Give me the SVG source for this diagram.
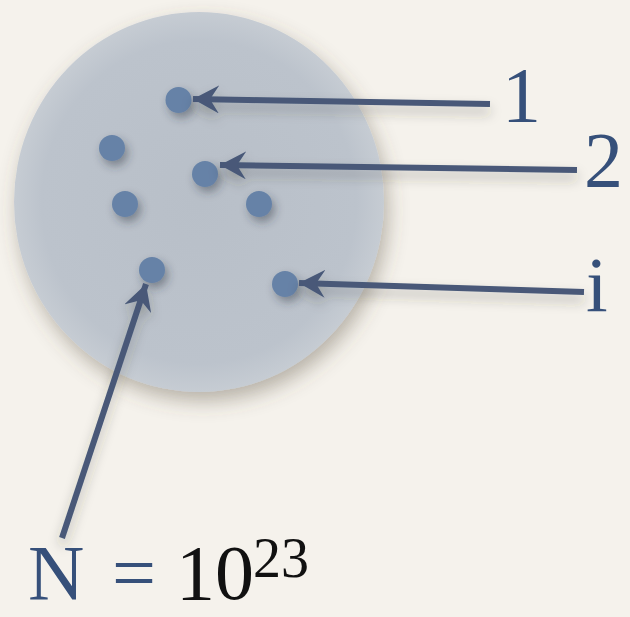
<svg xmlns="http://www.w3.org/2000/svg" width="630" height="617" viewBox="0 0 630 617">
  <defs>
    <filter id="soft" x="-20%" y="-20%" width="140%" height="150%">
      <feDropShadow dx="4" dy="9" stdDeviation="10" flood-color="#5a5040" flood-opacity="0.4"/>
    </filter>
    <filter id="dotsh" x="-100%" y="-100%" width="300%" height="300%">
      <feDropShadow dx="3" dy="5" stdDeviation="5" flood-color="#2a3040" flood-opacity="0.45"/>
    </filter>
    <filter id="lsh" x="-20%" y="-50%" width="140%" height="200%">
      <feDropShadow dx="0" dy="7" stdDeviation="6" flood-color="#3a3630" flood-opacity="0.3"/>
    </filter>
    <radialGradient id="cg" cx="0.5" cy="0.5" r="0.5">
      <stop offset="0" stop-color="#b8bfc8"/>
      <stop offset="0.85" stop-color="#bcc3cc"/>
      <stop offset="1" stop-color="#c6ccd3"/>
    </radialGradient>
    <marker id="ah" markerUnits="userSpaceOnUse" viewBox="0 0 28 28" refX="26" refY="14" markerWidth="28" markerHeight="28" orient="auto">
      <path d="M26 14 L0 0 L9 14 L0 28 Z" fill="#485978"/>
    </marker>
    <style>
      .dot { fill: #6682a7; }
      .arr { stroke: #485978; stroke-width: 6; fill: none; marker-end: url(#ah); }
      .lbl { font-family: "Liberation Serif", "DejaVu Serif", serif; fill: #36507a; }
      .blk { font-family: "Liberation Serif", "DejaVu Serif", serif; fill: #111111; }
    </style>
  </defs>
  <rect width="630" height="617" fill="#f5f2ec"/>
  <g id="cloud" filter="url(#soft)">
    <ellipse cx="199" cy="202" rx="185" ry="190" fill="url(#cg)"/>
  </g>
  <g id="particles" filter="url(#dotsh)">
    <circle id="p1" class="dot" cx="178.5" cy="100" r="13"/>
    <circle id="p3" class="dot" cx="112" cy="148" r="13"/>
    <circle id="p2" class="dot" cx="205" cy="174" r="13"/>
    <circle id="p4" class="dot" cx="125" cy="204" r="13"/>
    <circle id="p5" class="dot" cx="259" cy="204" r="13"/>
    <circle id="p6" class="dot" cx="152" cy="270" r="13"/>
    <circle id="pi" class="dot" cx="285" cy="284" r="13"/>
  </g>
  <g id="connectors" filter="url(#lsh)">
    <line class="arr" x1="490" y1="104" x2="193" y2="99"/>
    <line class="arr" x1="577" y1="170" x2="220" y2="165"/>
    <line class="arr" x1="584" y1="292" x2="299" y2="283"/>
    <line class="arr" x1="62" y1="538" x2="146" y2="284"/>
  </g>
  <g id="label-1"><text class="lbl" x="502" y="121" font-size="78">1</text></g>
  <g id="label-2"><text class="lbl" x="584" y="186" font-size="78">2</text></g>
  <g id="label-i"><text class="lbl" x="586" y="311" font-size="78">i</text></g>
  <g id="label-N">
    <text class="lbl" x="28" y="599" font-size="78">N</text>
    <text class="lbl" x="112" y="599" font-size="78">=</text>
    <text class="blk" x="176" y="599" font-size="78">10</text>
    <text class="blk" x="253" y="577" font-size="56">23</text>
  </g>
</svg>
